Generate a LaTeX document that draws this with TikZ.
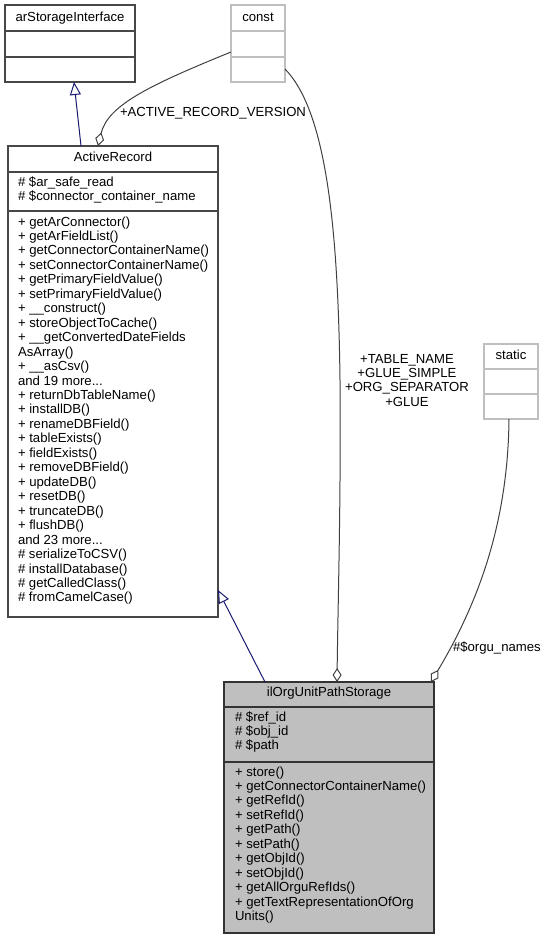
\documentclass[tikz,border=0pt]{standalone}
\usepackage{fontspec}
\setmainfont{Liberation Sans}
\usetikzlibrary{arrows.meta}
\definecolor{edgegray}{HTML}{404040}
\definecolor{boxgray}{HTML}{BFBFBF}
\definecolor{navyedge}{HTML}{191970}
\newcommand\mydotz{...}
\begin{document}
\begin{tikzpicture}[x=1pt,y=-1pt,
  every node/.style={font=\fontsize{13.15}{14.46}\selectfont, inner sep=0pt, outer sep=0pt},
  classbox/.style={draw=black!72, line width=1.1pt, rectangle, inner sep=0pt, outer sep=0pt},
  mainbox/.style={classbox, draw=black!80, fill=boxgray},
  lightbox/.style={draw=boxgray, line width=1.1pt, rectangle, inner sep=0pt, outer sep=0pt},
  divline/.style={draw=black!72, line width=1.1pt},
  lightdiv/.style={draw=boxgray, line width=1.1pt},
  txt/.style={anchor=base west},
  ttl/.style={anchor=base},
  inherit/.style={draw=navyedge, line width=1pt, -{Triangle[open, length=13pt, width=11pt]}},
  aggr/.style={draw=edgegray, line width=1pt, -{Diamond[open, length=14pt, width=9pt]}}
]
\useasboundingbox (0,0) rectangle (545,940);

% ---- arStorageInterface
\node[classbox, minimum width=130pt, minimum height=77pt] (asi) at (70,43.5) {};
\draw[divline] (asi.west |- 0,31) -- (asi.east |- 0,31);
\draw[divline] (asi.west |- 0,57) -- (asi.east |- 0,57);
\node[ttl] (asit) at (70,21.5) {arStorageInterface};

% ---- const
\node[lightbox, minimum width=54pt, minimum height=77pt] (cst) at (258,43.5) {};
\draw[lightdiv] (cst.west |- 0,31) -- (cst.east |- 0,31);
\draw[lightdiv] (cst.west |- 0,57) -- (cst.east |- 0,57);
\node[ttl] (cstt) at (258,21.5) {const};

% ---- static
\node[lightbox, minimum width=54pt, minimum height=75pt] (stc) at (511,381.5) {};
\draw[lightdiv] (stc.west |- 0,369) -- (stc.east |- 0,369);
\draw[lightdiv] (stc.west |- 0,394) -- (stc.east |- 0,394);
\node[ttl] (stct) at (511,359.5) {static};

% ---- ActiveRecord
\node[classbox, fill=white, minimum width=210pt, minimum height=471pt] (ar) at (113,381.5) {};
\draw[divline] (ar.west |- 0,172) -- (ar.east |- 0,172);
\draw[divline] (ar.west |- 0,211) -- (ar.east |- 0,211);
\node[ttl] (art) at (113,161.5) {ActiveRecord};
\foreach \t [count=\i] in {{\# \$ar\_safe\_read}, {\# \$connector\_container\_name}}
  \node[txt] (ara\i) at (18,{186+(\i-1)*14.46}) {\t};
\foreach \t [count=\i] in {
  {+ getArConnector()}, {+ getArFieldList()}, {+ getConnectorContainerName()},
  {+ setConnectorContainerName()}, {+ getPrimaryFieldValue()}, {+ setPrimaryFieldValue()},
  {+ \_\_construct()}, {+ storeObjectToCache()}, {+ \_\_getConvertedDateFields},
  {AsArray()}, {+ \_\_asCsv()}, {and 19 more\mydotz}, {+ returnDbTableName()}, {+ installDB()},
  {+ renameDBField()}, {+ tableExists()}, {+ fieldExists()}, {+ removeDBField()},
  {+ updateDB()}, {+ resetDB()}, {+ truncateDB()}, {+ flushDB()}, {and 23 more\mydotz},
  {\# serializeToCSV()}, {\# installDatabase()}, {\# getCalledClass()}, {\# fromCamelCase()}}
  \node[txt] (arm\i) at (18,{226+(\i-1)*14.46}) {\t};

% ---- ilOrgUnitPathStorage
\node[mainbox, minimum width=210pt, minimum height=251pt] (ilo) at (329,807.5) {};
\draw[divline, draw=black!80] (ilo.west |- 0,707) -- (ilo.east |- 0,707);
\draw[divline, draw=black!80] (ilo.west |- 0,762) -- (ilo.east |- 0,762);
\node[ttl] (ilot) at (329,696.5) {ilOrgUnitPathStorage};
\foreach \t [count=\i] in {{\# \$ref\_id}, {\# \$obj\_id}, {\# \$path}}
  \node[txt] (iloa\i) at (235,{721+(\i-1)*14.46}) {\t};
\foreach \t [count=\i] in {
  {+ store()}, {+ getConnectorContainerName()}, {+ getRefId()}, {+ setRefId()},
  {+ getPath()}, {+ setPath()}, {+ getObjId()}, {+ setObjId()}, {+ getAllOrguRefIds()},
  {+ getTextRepresentationOfOrg}, {Units()}}
  \node[txt] (ilom\i) at (235,{776+(\i-1)*14.46}) {\t};

% ---- connectors
\draw[inherit] (ar.north -| 81,0) -- (asi.south -| 74,0);
\draw[inherit] (ilo.north -| 265,0) -- (ar.east |- 0,590);
\draw[aggr] (cst.west |- 0,52) .. controls (150,85) and (108,105) .. (ar.north -| 98,0);
\draw[aggr] (cst.east |- 0,69) .. controls (325,110) and (338,220) .. (340,380)
  .. controls (341,500) and (338,600) .. (ilo.north -| 337,0);
\draw[aggr] (stc.south -| 509,0) .. controls (508,520) and (480,600) .. (ilo.north -| 431,0);

% ---- labels
\node[ttl] (lab1) at (213,116.5) {+ACTIVE\_RECORD\_VERSION};
\foreach \t [count=\i] in {{+TABLE\_NAME}, {+GLUE\_SIMPLE}, {+ORG\_SEPARATOR}, {+GLUE}}
  \node[ttl] (lab2\i) at (407,{363+(\i-1)*14.46}) {\t};
\node[txt] (lab3) at (453,651) {\#\$orgu\_names};
\end{tikzpicture}
\end{document}
